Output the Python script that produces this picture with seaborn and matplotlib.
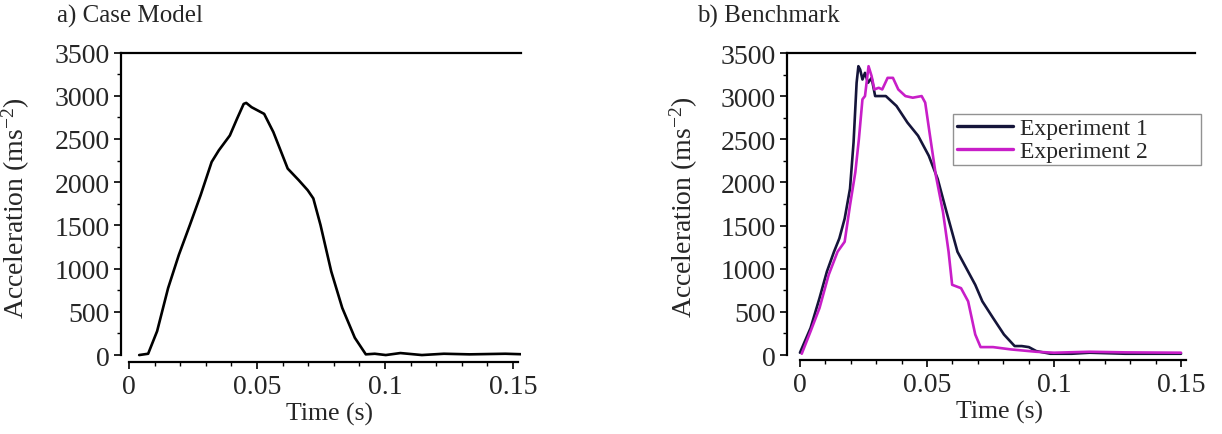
import numpy as np
import pandas as pd
import matplotlib
matplotlib.use("Agg")
import matplotlib.pyplot as plt
from matplotlib.ticker import MultipleLocator, FixedLocator
import seaborn as sns

# ---------------- data ----------------
case_t = [0.004, 0.0075, 0.011, 0.0153, 0.0195, 0.0238, 0.028, 0.0323, 0.0351, 0.0394,
          0.0422, 0.0448, 0.0458, 0.0479, 0.0528, 0.0564, 0.062, 0.0663, 0.0698, 0.072,
          0.0748, 0.079, 0.0833, 0.0882, 0.0925, 0.096, 0.1003, 0.106, 0.1144, 0.123,
          0.133, 0.147, 0.1548]
case_a = [0, 15, 276, 775, 1160, 1505, 1850, 2234, 2368, 2540,
          2733, 2905, 2917, 2867, 2790, 2579, 2157, 2023, 1907, 1812,
          1505, 967, 545, 200, 8, 15, 0, 23, 0, 15,
          8, 15, 8]

exp1_t = [0.0, 0.0042, 0.0077, 0.0106, 0.0134, 0.0155, 0.0176, 0.0197, 0.0211, 0.0223,
          0.023, 0.0237, 0.0246, 0.0256, 0.0268, 0.0282, 0.0296, 0.0338, 0.038, 0.0423,
          0.0465, 0.0507, 0.0542, 0.0577, 0.062, 0.0662, 0.069, 0.0718, 0.076, 0.0803,
          0.0845, 0.0873, 0.0901, 0.093, 0.0986, 0.107, 0.114, 0.128, 0.15]
exp1_a = [27, 315, 660, 967, 1197, 1351, 1581, 1927, 2464, 3155,
          3347, 3308, 3193, 3270, 3155, 3212, 3001, 3001, 2886, 2694,
          2541, 2310, 2042, 1658, 1197, 967, 814, 622, 430, 238,
          104, 104, 92, 46, 15, 15, 27, 15, 15]

exp2_t = [0.0007, 0.0042, 0.0077, 0.0113, 0.0148, 0.0176, 0.0197, 0.0218, 0.0232, 0.0246,
          0.0256, 0.027, 0.0282, 0.0293, 0.031, 0.0324, 0.0345, 0.0366, 0.0387, 0.0415,
          0.0444, 0.0479, 0.0493, 0.051, 0.0535, 0.0563, 0.0585, 0.0599, 0.0634, 0.0662,
          0.069, 0.0711, 0.076, 0.0831, 0.093, 0.1, 0.114, 0.128, 0.15]
exp2_a = [15, 276, 545, 929, 1197, 1313, 1735, 2119, 2502, 2963,
          3001, 3347, 3232, 3078, 3097, 3078, 3212, 3212, 3078, 3001,
          2982, 3001, 2925, 2579, 2080, 1658, 1197, 814, 775, 622,
          238, 92, 92, 65, 38, 27, 38, 31, 27]

series_names = ["Experiment 1", "Experiment 2"]
x_ticks = [0, 0.05, 0.1, 0.15]
x_ticklabels = ["0", "0.05", "0.1", "0.15"]
y_ticks = [0, 500, 1000, 1500, 2000, 2500, 3000, 3500]
titles = ["a) Case Model", "b) Benchmark"]

# ---------------- style ----------------
sns.set_style("white")
plt.rcParams["font.family"] = ["Liberation Serif", "DejaVu Serif"]
plt.rcParams["mathtext.default"] = "regular"

W, H = 1222, 435
fig = plt.figure(figsize=(W / 100, H / 100), dpi=100)

def px_axes(l, t, r, b):
    return fig.add_axes([l / W, 1 - b / H, (r - l) / W, (b - t) / H])

ax1 = px_axes(121, 53.5, 521, 362.7)
ax2 = px_axes(787, 54, 1195, 360.7)

sns.lineplot(x=case_t, y=case_a, ax=ax1, color="black", lw=1.9, estimator=None, sort=False)

df = pd.concat([
    pd.DataFrame({"t": exp1_t, "a": exp1_a, "s": series_names[0]}),
    pd.DataFrame({"t": exp2_t, "a": exp2_a, "s": series_names[1]}),
])
sns.lineplot(data=df, x="t", y="a", hue="s", ax=ax2, estimator=None, sort=False,
             palette=["#15153a", "#c81ec8"], lw=1.9)

limits = [((-0.0031, 0.1531), (-77, 3500)), ((-0.0051, 0.1555), (-54, 3500))]
for ax, (xl, yl), title in zip([ax1, ax2], limits, titles):
    ax.set_xlim(*xl)
    ax.set_ylim(*yl)
    ax.xaxis.set_major_locator(FixedLocator(x_ticks))
    ax.set_xticklabels(x_ticklabels)
    ax.xaxis.set_minor_locator(MultipleLocator(0.01))
    ax.yaxis.set_major_locator(FixedLocator(y_ticks))
    ax.yaxis.set_minor_locator(MultipleLocator(250))
    ax.tick_params(axis="both", which="major", direction="out", length=5, width=1.2,
                   labelsize=20, color="black", bottom=True, left=True)
    ax.tick_params(axis="both", which="minor", direction="out", length=3, width=1.0,
                   color="black", bottom=True, left=True)
    ax.tick_params(axis="x", which="major", pad=4)
    ax.tick_params(axis="y", which="major", pad=3)
    for s in ["left", "bottom", "top"]:
        ax.spines[s].set_visible(True)
        ax.spines[s].set_color("black")
        ax.spines[s].set_linewidth(1.6)
    ax.spines["right"].set_visible(False)
    ax.spines["bottom"].set_bounds(0, 0.152)
    ax.spines["left"].set_bounds(0, 3500)
    ax.set_xlabel("Time (s)", fontsize=18.5)
    ax.set_ylabel("Acceleration (ms$^{-2}$)", fontsize=20)
    ax.set_facecolor("white")

ax1.xaxis.set_label_coords(0.52, -0.13)
ax2.xaxis.set_label_coords(0.52, -0.13)
ax1.yaxis.set_label_coords(-0.222, 0.5)
ax2.yaxis.set_label_coords(-0.213, 0.5)

fig.text(57 / W, 1 - 16 / H, titles[0], fontsize=18, va="center", ha="left")
fig.text(697 / W, 1 - 16 / H, titles[1], fontsize=18, va="center", ha="left")

handles, labels = ax2.get_legend_handles_labels()
x0, x1 = 953 / W, 1201 / W
ytop, ybot = 1 - 115 / H, 1 - 162 / H
leg = ax2.legend(handles, labels, loc="upper left", mode="expand",
                 bbox_to_anchor=(x0, ybot, x1 - x0, ytop - ybot), bbox_transform=fig.transFigure,
                 borderaxespad=0, frameon=True, fancybox=False, fontsize=17,
                 handlelength=2.4, handletextpad=0.3, borderpad=0.15, labelspacing=0.05,
                 title=None)
leg.get_frame().set_edgecolor("#777777")
leg.get_frame().set_linewidth(1.0)
for line in leg.get_lines():
    line.set_linewidth(2.4)

fig.savefig("out.png", dpi=100, facecolor="white")
